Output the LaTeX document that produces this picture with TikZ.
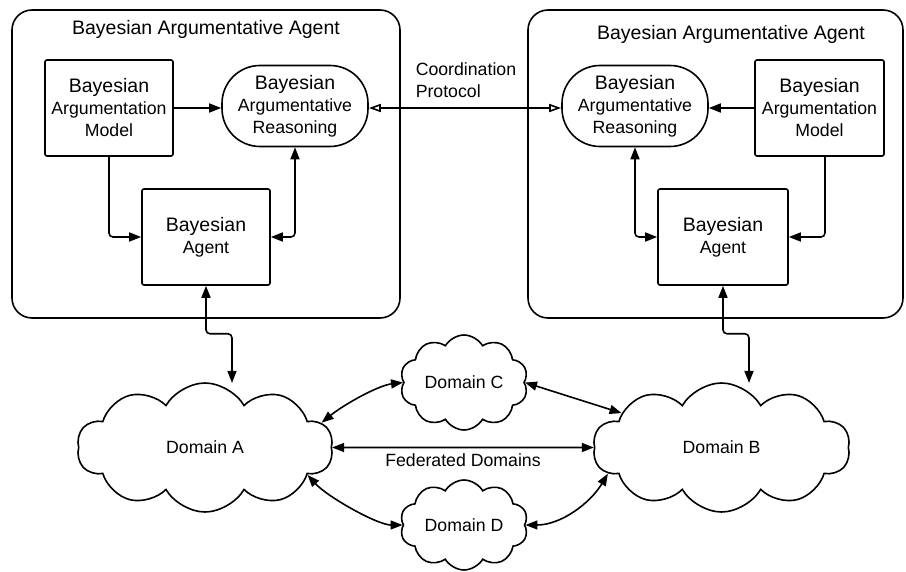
\documentclass[tikz,border=0pt]{standalone}
\usepackage{fontspec}
\setmainfont{Liberation Sans}
\usetikzlibrary{arrows.meta,shapes.symbols}

\newcommand{\firstline}[1]{{\fontsize{19.5}{22}\selectfont #1}}

\tikzset{
	agentframe/.style={draw, rounded corners=20pt, inner sep=0pt},
	box/.style={draw, rounded corners=2pt, inner sep=0pt, align=center, minimum height=96pt},
	stadium/.style={draw, rounded corners=38pt, inner sep=0pt, align=center, minimum width=146pt, minimum height=81pt},
	domaincloud/.style={draw, cloud, cloud puffs=10, cloud puff arc=120, cloud ignores aspect, inner sep=0pt},
	lbl/.style={inner sep=0pt}
}

\begin{document}
\begin{tikzpicture}[x=1pt, y=1pt, >={Triangle[length=12pt,width=9pt]}, line width=1.6pt, font=\fontsize{17.7}{22}\selectfont]
		%				\draw [help lines] (0,0) grid (906,571);
		\useasboundingbox (0,0) rectangle (906,571);
		% left agent
		\node [agentframe, minimum width=388pt, minimum height=308pt] (frameL) at (206,407) {};
		\node [lbl, font=\fontsize{19.5}{22}\selectfont] (titleL) at (206,542) {Bayesian Argumentative Agent};
		\node [box, minimum width=128pt] (modelL) at (109,463) {\firstline{Bayesian}\\Argumentation\\Model};
		\node [stadium] (reasonL) at (295,465) {\firstline{Bayesian}\\Argumentative\\Reasoning};
		\node [box, minimum width=128pt] (agentL) at (206,334) {\firstline{Bayesian}\\Agent};
		% right agent
		\node [agentframe, minimum width=375pt, minimum height=308pt] (frameR) at (715.5,407) {};
		\node [lbl, font=\fontsize{19.5}{22}\selectfont] (titleR) at (731,537) {Bayesian Argumentative Agent};
		\node [stadium] (reasonR) at (635,465) {\firstline{Bayesian}\\Argumentative\\Reasoning};
		\node [box, minimum width=129pt] (modelR) at (819.5,463) {\firstline{Bayesian}\\Argumentation\\Model};
		\node [box, minimum width=130pt] (agentR) at (723,334) {\firstline{Bayesian}\\Agent};
		% domains
		\node [domaincloud, minimum width=256pt, minimum height=129pt] (domA) at (205,123.5) {Domain A};
		\node [domaincloud, minimum width=257pt, minimum height=129pt] (domB) at (721.5,123.5) {Domain B};
		\node [domaincloud, minimum width=128pt, minimum height=95pt] (domC) at (464,188.5) {Domain C};
		\node [domaincloud, minimum width=128pt, minimum height=90pt] (domD) at (464,46) {Domain D};
		\coordinate (topA) at (232,188);
		\coordinate (topB) at (749,188);
		% inside the agents
		\draw [->] (modelL.east) -- (reasonL.west |- modelL.east);
		\draw [->, rounded corners=4pt] (modelL.south) |- (agentL.west);
		\draw [<->, rounded corners=4pt] (reasonL.south) |- (agentL.east);
		\draw [->] (modelR.west) -- (reasonR.east |- modelR.west);
		\draw [->, rounded corners=4pt] (modelR.south -| 825,0) |- (agentR.east);
		\draw [<->, rounded corners=4pt] (reasonR.south) |- (agentR.west);
		% between the agents
		\draw [{Triangle[open,length=12pt,width=8pt]}-{Triangle[open,length=12pt,width=8pt]}] (reasonL.east |- modelL.east) -- (reasonR.west |- modelL.east) node [lbl, pos=0.24, above=10pt, anchor=south west, align=left] (coord) {Coordination\\Protocol};
		% agents to domains
		\draw [<->, rounded corners=4pt] (agentL.south) -- ++(0,-48) -| (topA);
		\draw [<->, rounded corners=4pt] (agentR.south) -- ++(0,-48) -| (topB);
		% federation
		\draw [<->] (domA.east) -- (domB.west) node [lbl, pos=0.5, below=5pt] (fed) {Federated Domains};
		\draw [<->] (domA.12) .. controls +(22,18) and +(-25,-3) .. (domC.west);
		\draw [<->] (domA.-15) .. controls +(20,-22) and +(-25,0) .. (domD.west);
		\draw [<->] (domC.east) -- (domB.161);
		\draw [<->] (domD.east) .. controls +(35,0) and +(-18,-30) .. (domB.-167);
	\end{tikzpicture}
\end{document}
